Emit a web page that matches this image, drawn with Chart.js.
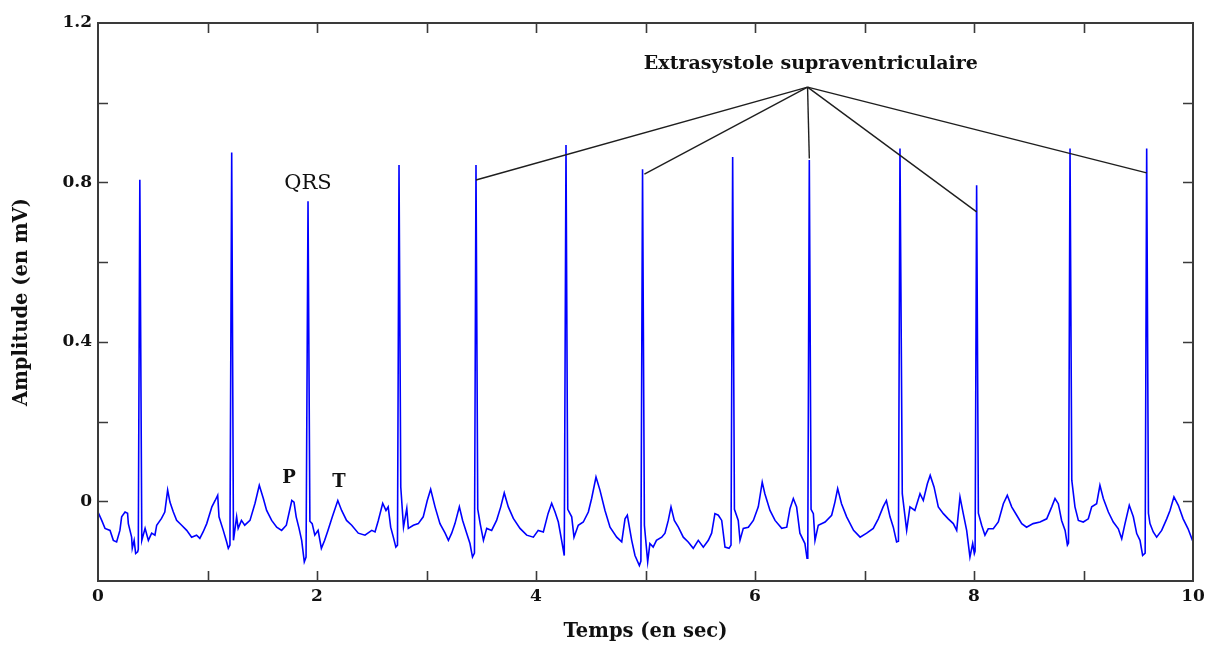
<!DOCTYPE html>
<html>
<head>
<meta charset="utf-8">
<script src="https://cdn.jsdelivr.net/npm/chart.js@4.4.1/dist/chart.umd.min.js"></script>
<style>
  html, body { margin: 0; padding: 0; background: #ffffff; }
  #wrap { width: 1212px; height: 646px; }
</style>
</head>
<body>
<div id="wrap"><canvas id="ecg" width="1212" height="646"></canvas></div>
<script>
// ECG trace: time (s) and amplitude (mV)
const tempsSec = [
  0.000, 0.034, 0.064, 0.110, 0.140, 0.170, 0.200, 0.216, 0.247, 0.270, 0.277, 0.307, 0.313, 0.330, 0.344, 0.362,
  0.368, 0.382, 0.400, 0.430, 0.460, 0.490, 0.520, 0.536, 0.580, 0.610, 0.636, 0.657, 0.688, 0.718, 0.764, 0.810,
  0.855, 0.900, 0.930, 0.960, 0.993, 1.040, 1.070, 1.093, 1.105, 1.144, 1.175, 1.190, 1.205, 1.221, 1.237, 1.266,
  1.280, 1.310, 1.340, 1.388, 1.434, 1.473, 1.510, 1.540, 1.586, 1.632, 1.677, 1.720, 1.770, 1.790, 1.810, 1.836,
  1.860, 1.884, 1.900, 1.918, 1.935, 1.956, 1.980, 2.010, 2.040, 2.070, 2.100, 2.140, 2.190, 2.225, 2.270, 2.317,
  2.377, 2.438, 2.500, 2.530, 2.560, 2.600, 2.630, 2.650, 2.673, 2.697, 2.720, 2.735, 2.749, 2.765, 2.790, 2.820,
  2.834, 2.880, 2.925, 2.970, 3.007, 3.038, 3.078, 3.123, 3.170, 3.200, 3.230, 3.260, 3.300, 3.330, 3.367, 3.397,
  3.420, 3.438, 3.452, 3.468, 3.490, 3.520, 3.550, 3.595, 3.640, 3.678, 3.710, 3.747, 3.793, 3.854, 3.915, 3.976,
  4.020, 4.067, 4.110, 4.143, 4.174, 4.204, 4.234, 4.258, 4.274, 4.290, 4.326, 4.347, 4.386, 4.432, 4.478, 4.508,
  4.548, 4.584, 4.630, 4.676, 4.737, 4.783, 4.813, 4.834, 4.874, 4.904, 4.944, 4.958, 4.973, 4.990, 5.020, 5.040,
  5.070, 5.100, 5.148, 5.178, 5.208, 5.233, 5.263, 5.300, 5.345, 5.390, 5.436, 5.482, 5.528, 5.574, 5.604, 5.634,
  5.665, 5.696, 5.726, 5.763, 5.781, 5.796, 5.812, 5.847, 5.863, 5.893, 5.939, 5.985, 6.030, 6.066, 6.090, 6.137,
  6.183, 6.244, 6.290, 6.320, 6.350, 6.380, 6.410, 6.456, 6.475, 6.482, 6.496, 6.512, 6.533, 6.548, 6.578, 6.640,
  6.700, 6.730, 6.755, 6.790, 6.837, 6.900, 6.960, 7.020, 7.080, 7.126, 7.170, 7.200, 7.233, 7.263, 7.293, 7.310,
  7.324, 7.345, 7.385, 7.415, 7.460, 7.507, 7.537, 7.574, 7.600, 7.635, 7.674, 7.720, 7.765, 7.811, 7.842, 7.872,
  7.902, 7.933, 7.963, 7.988, 8.003, 8.010, 8.024, 8.040, 8.070, 8.100, 8.130, 8.176, 8.222, 8.268, 8.304, 8.344,
  8.390, 8.436, 8.480, 8.540, 8.603, 8.664, 8.710, 8.740, 8.770, 8.800, 8.832, 8.853, 8.863, 8.877, 8.893, 8.922,
  8.953, 8.998, 9.044, 9.075, 9.120, 9.150, 9.181, 9.227, 9.272, 9.318, 9.349, 9.379, 9.418, 9.455, 9.486, 9.516,
  9.540, 9.563, 9.577, 9.593, 9.607, 9.637, 9.668, 9.714, 9.760, 9.790, 9.826, 9.866, 9.910, 9.955, 9.995, 10.000
];
const amplitudeMv = [
  -0.027, -0.048, -0.068, -0.073, -0.098, -0.102, -0.073, -0.039, -0.027, -0.030, -0.056, -0.090, -0.118, -0.098, -0.131, -0.127,
  -0.120, 0.807, -0.098, -0.068, -0.098, -0.080, -0.085, -0.060, -0.043, -0.027, 0.028, -0.002, -0.027, -0.048, -0.060, -0.073,
  -0.090, -0.085, -0.093, -0.077, -0.056, -0.014, 0.002, 0.015, -0.039, -0.073, -0.102, -0.118, -0.110, 0.875, -0.098, -0.039,
  -0.068, -0.048, -0.060, -0.048, -0.005, 0.040, 0.007, -0.023, -0.048, -0.065, -0.073, -0.060, 0.002, -0.002, -0.039, -0.068,
  -0.098, -0.152, -0.140, 0.753, -0.050, -0.056, -0.085, -0.073, -0.118, -0.098, -0.073, -0.039, 0.002, -0.023, -0.048, -0.060,
  -0.080, -0.085, -0.073, -0.077, -0.048, -0.005, -0.023, -0.014, -0.065, -0.090, -0.115, -0.110, 0.844, 0.036, -0.065, -0.018,
  -0.068, -0.060, -0.056, -0.039, 0.002, 0.030, -0.014, -0.056, -0.080, -0.098, -0.080, -0.056, -0.014, -0.048, -0.080, -0.106,
  -0.140, -0.130, 0.844, -0.020, -0.056, -0.098, -0.068, -0.073, -0.048, -0.014, 0.021, -0.014, -0.043, -0.068, -0.085, -0.090,
  -0.073, -0.077, -0.031, -0.005, -0.027, -0.052, -0.098, -0.136, 0.894, -0.020, -0.039, -0.090, -0.060, -0.052, -0.027, 0.007,
  0.061, 0.028, -0.023, -0.065, -0.090, -0.102, -0.044, -0.035, -0.098, -0.136, -0.161, -0.150, 0.833, -0.060, -0.152, -0.106,
  -0.115, -0.098, -0.090, -0.080, -0.048, -0.014, -0.048, -0.065, -0.090, -0.102, -0.118, -0.098, -0.115, -0.098, -0.080, -0.031,
  -0.035, -0.048, -0.115, -0.118, -0.110, 0.864, -0.020, -0.048, -0.098, -0.068, -0.065, -0.048, -0.014, 0.048, 0.019, -0.023,
  -0.048, -0.068, -0.065, -0.018, 0.007, -0.014, -0.080, -0.106, -0.143, -0.130, 0.856, -0.020, -0.031, -0.098, -0.060, -0.052,
  -0.035, -0.002, 0.032, -0.006, -0.039, -0.073, -0.090, -0.080, -0.068, -0.044, -0.014, 0.002, -0.039, -0.065, -0.102, -0.100,
  0.885, 0.019, -0.073, -0.014, -0.023, 0.019, 0.002, 0.044, 0.065, 0.036, -0.014, -0.031, -0.044, -0.056, -0.073, 0.011,
  -0.031, -0.073, -0.140, -0.106, -0.131, -0.125, 0.793, -0.030, -0.060, -0.085, -0.069, -0.069, -0.052, -0.006, 0.015, -0.014,
  -0.035, -0.056, -0.065, -0.056, -0.052, -0.044, -0.014, 0.007, -0.006, -0.048, -0.073, -0.110, -0.105, 0.885, 0.053, -0.014,
  -0.048, -0.052, -0.044, -0.014, -0.006, 0.040, 0.007, -0.027, -0.052, -0.069, -0.094, -0.056, -0.010, -0.039, -0.081, -0.098,
  -0.136, -0.130, 0.885, -0.030, -0.056, -0.077, -0.090, -0.073, -0.044, -0.023, 0.011, -0.010, -0.044, -0.069, -0.098, -0.100
];

// Axis ranges and labelled ticks
const xRange = [0, 10];
const yRange = [-0.2, 1.2];
const xLabelTicks = [0, 2, 4, 6, 8, 10];
const yLabelTicks = [0, 0.4, 0.8, 1.2];

// Callout: "Extrasystole supraventriculaire" pointing at five beats
const calloutText = 'Extrasystole supraventriculaire';
const calloutTextPos = [6.51, 1.097];
const calloutApex = [6.48, 1.039];
const calloutTargetT = [3.452, 4.990, 6.496, 8.024, 9.577];
const calloutTargetV = [0.806, 0.821, 0.860, 0.726, 0.824];

// Wave labels
const waveNames = ['QRS', 'P', 'T'];
const waveT = [1.918, 1.744, 2.201];
const waveV = [0.797, 0.058, 0.048];

const SERIF = '"DejaVu Serif", "Liberation Serif", serif';

const ecgPoints = tempsSec.map((t, i) => ({ x: t, y: amplitudeMv[i] }));
const calloutSets = calloutTargetT.map((t, i) => ({
  data: [{ x: calloutApex[0], y: calloutApex[1] }, { x: t, y: calloutTargetV[i] }],
  borderColor: '#1e1e1e',
  borderWidth: 1.4,
  pointRadius: 0,
  order: 0
}));

// Box frame with inward ticks on all four sides
const frameTicks = {
  id: 'frameTicks',
  afterDatasetsDraw(chart) {
    const { ctx, chartArea: a, scales: { x, y } } = chart;
    const len = 10;
    ctx.save();
    ctx.strokeStyle = '#3a3a3a';
    ctx.lineWidth = 1.6;
    ctx.beginPath();
    x.ticks.forEach(t => {
      if (t.value <= x.min || t.value >= x.max) return;
      const px = Math.round(x.getPixelForValue(t.value)) + 0.5;
      ctx.moveTo(px, a.bottom); ctx.lineTo(px, a.bottom - len);
      ctx.moveTo(px, a.top); ctx.lineTo(px, a.top + len);
    });
    y.ticks.forEach(t => {
      if (t.value <= y.min + 1e-9 || t.value >= y.max - 1e-9) return;
      const py = Math.round(y.getPixelForValue(t.value)) + 0.5;
      ctx.moveTo(a.left, py); ctx.lineTo(a.left + len, py);
      ctx.moveTo(a.right, py); ctx.lineTo(a.right - len, py);
    });
    ctx.stroke();
    ctx.lineWidth = 2;
    ctx.strokeRect(a.left, a.top, a.right - a.left, a.bottom - a.top);
    ctx.restore();
  }
};

// Text annotations placed in data coordinates
const textLabels = {
  id: 'textLabels',
  afterDatasetsDraw(chart) {
    const { ctx, scales: { x, y } } = chart;
    ctx.save();
    ctx.fillStyle = '#111111';
    ctx.textAlign = 'center';
    ctx.textBaseline = 'middle';
    ctx.font = 'bold 19px ' + SERIF;
    ctx.fillText(calloutText, x.getPixelForValue(calloutTextPos[0]), y.getPixelForValue(calloutTextPos[1]));
    waveNames.forEach((name, i) => {
      ctx.font = (name === 'QRS' ? '21px ' : 'bold 18px ') + SERIF;
      ctx.fillText(name, x.getPixelForValue(waveT[i]), y.getPixelForValue(waveV[i]));
    });
    ctx.restore();
  }
};

const fmt = v => String(+v.toFixed(1));

new Chart(document.getElementById('ecg'), {
  type: 'line',
  data: {
    datasets: [
      ...calloutSets,
      {
        data: ecgPoints,
        borderColor: '#0000ff',
        borderWidth: 1.6,
        pointRadius: 0,
        tension: 0,
        order: 1
      }
    ]
  },
  options: {
    responsive: false,
    animation: false,
    events: [],
    layout: { padding: { top: 23, right: 19, bottom: 0, left: 0 } },
    plugins: { legend: { display: false }, tooltip: { enabled: false } },
    scales: {
      x: {
        type: 'linear',
        min: xRange[0],
        max: xRange[1],
        afterFit: s => { s.height = 65; },
        grid: { display: false, drawTicks: false },
        border: { display: false },
        ticks: {
          stepSize: 1,
          padding: 5,
          color: '#111111',
          font: { family: SERIF, size: 17, weight: 'bold' },
          maxRotation: 0,
          autoSkip: false,
          callback: v => xLabelTicks.some(l => Math.abs(l - v) < 1e-9) ? fmt(v) : ''
        },
        title: {
          display: true,
          text: 'Temps (en sec)',
          color: '#111111',
          font: { family: SERIF, size: 19.5, weight: 'bold' },
          padding: { top: 0, bottom: 2 }
        }
      },
      y: {
        min: yRange[0],
        max: yRange[1],
        afterFit: s => { s.width = 98; },
        grid: { display: false, drawTicks: false },
        border: { display: false },
        ticks: {
          stepSize: 0.2,
          padding: 6,
          color: '#111111',
          font: { family: SERIF, size: 17, weight: 'bold' },
          autoSkip: false,
          callback: v => yLabelTicks.some(l => Math.abs(l - v) < 1e-9) ? fmt(v) : ''
        },
        title: {
          display: true,
          text: 'Amplitude (en mV)',
          color: '#111111',
          font: { family: SERIF, size: 19.5, weight: 'bold' },
          padding: { top: 10, bottom: 0 }
        }
      }
    }
  },
  plugins: [frameTicks, textLabels]
});
</script>
</body>
</html>
